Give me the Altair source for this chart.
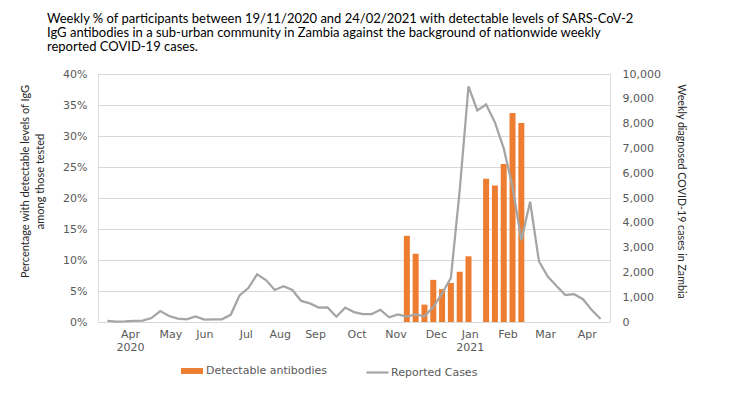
import altair as alt
import pandas as pd

# ---- data ----
week_start = "2020-03-26"
case_counts = [50, 20, 30, 50, 60, 160, 440, 240, 140, 110,
               220, 95, 110, 110, 290, 1070, 1370, 1920, 1690, 1290,
               1440, 1290, 850, 750, 580, 590, 215, 580, 400, 320,
               320, 490, 190, 305, 215, 310, 230, 600, 1150, 1780,
               5300, 9500, 8530, 8770, 8050, 7000, 5450, 3300, 4850, 2450,
               1830, 1450, 1090, 1120, 920, 480, 120]

bar_weeks = ["2020-11-19", "2020-11-26", "2020-12-03", "2020-12-10", "2020-12-17",
             "2020-12-24", "2020-12-31", "2021-01-07", "2021-01-21", "2021-01-28",
             "2021-02-04", "2021-02-11", "2021-02-18"]
bar_pct = [13.9, 11.0, 2.8, 6.8, 5.3, 6.3, 8.1, 10.6, 23.1, 22.0, 25.5, 33.7, 32.1]

pct_ticks = [0, 5, 10, 15, 20, 25, 30, 35, 40]
case_ticks = [0, 1000, 2000, 3000, 4000, 5000, 6000, 7000, 8000, 9000, 10000]
month_ticks = [(2020, 4, 13), (2020, 5, 15), (2020, 6, 11), (2020, 7, 14), (2020, 8, 10),
               (2020, 9, 7), (2020, 10, 10), (2020, 11, 10), (2020, 12, 12), (2021, 1, 8),
               (2021, 2, 7), (2021, 3, 9), (2021, 4, 11)]

title_lines = [
    "Weekly % of participants between 19/11/2020 and 24/02/2021 with detectable levels of SARS-CoV-2",
    "IgG antibodies in a sub-urban community in Zambia against the background of nationwide weekly",
    "reported COVID-19 cases.",
]

# ---- tables ----
line_weeks = pd.date_range(week_start, periods=len(case_counts), freq="7D").strftime("%Y-%m-%d")
line_df = pd.DataFrame({"week": list(line_weeks), "cases": case_counts, "series": "Reported Cases"})
bar_df = pd.DataFrame({"week": bar_weeks, "pct": bar_pct, "series": "Detectable antibodies"})

AX_FONT = "DejaVu Sans"
TITLE_FONT = "Lato"
LABEL_COLOR = "#595959"

x_scale = alt.Scale(
    type="utc",
    domain=[alt.DateTime(year=2020, month=3, date=22, hours=12, utc=True),
            alt.DateTime(year=2021, month=4, date=25, hours=12, utc=True)],
)
x_axis = alt.Axis(
    values=[alt.DateTime(year=y, month=m, date=d, utc=True) for (y, m, d) in month_ticks],
    labelExpr="(utcmonth(datum.value)==0 || (utcmonth(datum.value)==3 && utcyear(datum.value)==2020)) ? [utcFormat(datum.value,'%b'), utcFormat(datum.value,'%Y')] : utcFormat(datum.value,'%b')",
    grid=False, domain=False, ticks=False, title=None,
    labelFont=AX_FONT, labelFontSize=11, labelColor=LABEL_COLOR, labelPadding=6,
    labelOverlap=False, labelLineHeight=13,
)

x_enc = alt.X("week:T", scale=x_scale, axis=x_axis)

bars = alt.Chart(bar_df).mark_bar(size=6).encode(
    x=x_enc,
    y=alt.Y(
        "pct:Q",
        scale=alt.Scale(domain=[0, 40], nice=False),
        axis=alt.Axis(
            orient="left", values=pct_ticks, labelExpr="datum.value + '%'",
            grid=True, gridColor="#D9D9D9", gridWidth=1, domain=False, ticks=False,
            labelFont=AX_FONT, labelFontSize=11, labelColor=LABEL_COLOR, labelPadding=11,
            title=["Percentage with detectable levels of IgG", "among those tested"],
            titleFont=TITLE_FONT, titleFontSize=11, titleFontWeight="normal",
            titleColor="#262626", titleAngle=270, titleX=-73, titleY=107,
            titleAlign="center", titleBaseline="middle", titleLineHeight=15,
        ),
    ),
    fill=alt.Fill(
        "series:N",
        scale=alt.Scale(domain=["Detectable antibodies"], range=["#ED7D31"]),
        legend=alt.Legend(
            orient="none", legendX=83, legendY=286, title=None, padding=0,
            symbolType="M-1,-0.27H1V0.27H-1Z", symbolSize=484, symbolStrokeWidth=0,
            labelFont=AX_FONT, labelFontSize=11, labelColor=LABEL_COLOR, labelOffset=3,
        ),
    ),
)

line = alt.Chart(line_df).mark_line(strokeWidth=2.25).encode(
    x=x_enc,
    y=alt.Y(
        "cases:Q",
        scale=alt.Scale(domain=[0, 10000], nice=False),
        axis=alt.Axis(
            orient="right", values=case_ticks, format=",.0f",
            grid=False, domain=False, ticks=False,
            labelFont=AX_FONT, labelFontSize=11, labelColor=LABEL_COLOR, labelPadding=12,
            title="Weekly diagnosed COVID-19 cases in Zambia",
            titleFont=TITLE_FONT, titleFontSize=10.7, titleFontWeight="normal",
            titleColor="#262626", titleAngle=90, titleX=70, titleY=117,
            titleAlign="center", titleBaseline="middle",
        ),
    ),
    stroke=alt.Stroke(
        "series:N",
        scale=alt.Scale(domain=["Reported Cases"], range=["#A5A5A5"]),
        legend=alt.Legend(
            orient="none", legendX=267, legendY=286, title=None, padding=0,
            symbolType="stroke", symbolSize=484, symbolStrokeWidth=2.25,
            labelFont=AX_FONT, labelFontSize=11, labelColor=LABEL_COLOR, labelOffset=1,
        ),
    ),
)

chart = (
    alt.layer(bars, line)
    .resolve_scale(y="independent")
    .properties(
        width=512,
        height=248,
        autosize=alt.AutoSizeParams(type="none"),
        padding={"left": 90, "top": 66, "right": 100, "bottom": 60},
        title=alt.TitleParams(
            text=title_lines, anchor="start", frame="group", dx=-51, offset=14,
            font=TITLE_FONT, fontSize=13, fontWeight="normal", color="#000000",
            lineHeight=14,
        ),
    )
    .configure_view(stroke=None)
    .configure(background="white")
)

chart.save("out.html", embed_options={"renderer": "svg", "actions": False})
